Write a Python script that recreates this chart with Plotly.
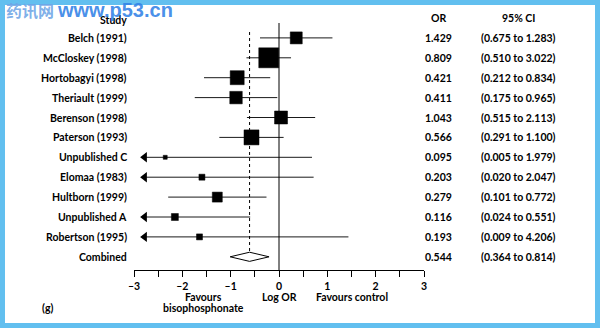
import math
import plotly.graph_objects as go

# ---- data -------------------------------------------------------------
studies = ["Belch (1991)", "McCloskey (1998)", "Hortobagyi (1998)", "Theriault (1999)",
           "Berenson (1998)", "Paterson (1993)", "Unpublished C", "Elomaa (1983)",
           "Hultborn (1999)", "Unpublished A", "Robertson (1995)"]
odds_ratio = [1.429, 0.809, 0.421, 0.411, 1.043, 0.566, 0.095, 0.203, 0.279, 0.116, 0.193]
ci_low = [0.675, 0.510, 0.212, 0.175, 0.515, 0.291, 0.005, 0.020, 0.101, 0.024, 0.009]
ci_high = [3.022, 1.283, 0.834, 0.965, 2.113, 1.100, 1.979, 2.047, 0.772, 0.551, 4.206]
ci_text = ["(0.675 to 1.283)", "(0.510 to 3.022)", "(0.212 to 0.834)", "(0.175 to 0.965)",
           "(0.515 to 2.113)", "(0.291 to 1.100)", "(0.005 to 1.979)", "(0.020 to 2.047)",
           "(0.101 to 0.772)", "(0.024 to 0.551)", "(0.009 to 4.206)"]
weights = [12, 20, 14, 12.5, 13, 15, 4, 6, 10, 7, 6]   # square sizes (study weight)

combined_label = "Combined"
combined_or = 0.544
combined_low = 0.364
combined_high = 0.814

tick_vals = [-3, -2.5, -2, -1.5, -1, -0.5, 0, 0.5, 1, 1.5, 2, 2.5, 3]
tick_text = ["\u20133", "", "\u20132", "", "\u20131", "", "0", "", "1", "", "2", "", "3"]

# ---- layout constants -------------------------------------------------
W, H = 600, 328
ML, MR, MT, MB = 134, 176, 0, 58
PW, PH = W - ML - MR, H - MT - MB
XMIN, XMAX = -3, 3
ROW0, ROWSTEP = 18.0, 19.9          # pixel centre of header row, row spacing
FONT = "Lato"
FS = 10.5
ARROW_X = -2.78


def px_to_row(py):
    return (py - ROW0) / ROWSTEP


def paper_x(px):
    return (px - ML) / PW


def paper_y(py):
    return (MT + PH - py) / PH


n = len(studies)
rows = list(range(1, n + 1))
comb_row = n + 1

log_or = [math.log(v) for v in odds_ratio]
log_lo = [math.log(v) for v in ci_low]
log_hi = [math.log(v) for v in ci_high]

fig = go.Figure()

# confidence-interval whiskers (clipped at the left edge with an arrow)
wx, wy = [], []
arrow_x, arrow_y = [], []
for r, lo, hi in zip(rows, log_lo, log_hi):
    start = lo
    if lo < XMIN:
        start = ARROW_X
        arrow_x.append(ARROW_X)
        arrow_y.append(r)
    wx += [start, hi, None]
    wy += [r, r, None]
fig.add_trace(go.Scatter(x=wx, y=wy, mode="lines", line=dict(color="#1a1a1a", width=1),
                         hoverinfo="skip", showlegend=False))
fig.add_trace(go.Scatter(x=arrow_x, y=arrow_y, mode="markers",
                         marker=dict(symbol="triangle-left", size=9, color="#000", opacity=1),
                         hoverinfo="skip", showlegend=False))

# study estimates
fig.add_trace(go.Scatter(x=log_or, y=rows, mode="markers",
                         marker=dict(symbol="square", size=weights, color="#000", opacity=1,
                                     line=dict(width=0.5, color="#000")),
                         opacity=1, hoverinfo="skip", showlegend=False))

# pooled estimate diamond
c_mid = math.log(combined_or)
c_lo = math.log(combined_low)
c_hi = math.log(combined_high)
half_h = 0.23
fig.add_trace(go.Scatter(x=[c_lo, c_mid, c_hi, c_mid, c_lo],
                         y=[comb_row, comb_row - half_h, comb_row, comb_row + half_h, comb_row],
                         mode="lines", fill="toself", fillcolor="white",
                         line=dict(color="#000", width=1),
                         hoverinfo="skip", showlegend=False))

y_top = px_to_row(MT)
y_bot = px_to_row(MT + PH)

shapes = [
    # line of no effect
    dict(type="line", xref="x", yref="y", x0=0, x1=0, y0=px_to_row(23), y1=y_bot,
         line=dict(color="#000", width=1)),
    # pooled estimate reference
    dict(type="line", xref="x", yref="y", x0=c_mid, x1=c_mid, y0=px_to_row(32),
         y1=comb_row - half_h, line=dict(color="#000", width=1, dash="dot")),
    # light blue frame
    dict(type="rect", xref="paper", yref="paper", x0=paper_x(0), x1=paper_x(W),
         y0=paper_y(H), y1=paper_y(0), line=dict(color="#62bfef", width=10),
         fillcolor="rgba(0,0,0,0)", layer="above"),
]

bold = dict(family=FONT, size=FS, color="#000")
ann = []


def label(text, x, y, xanchor="center", xref="paper", size=None):
    f = dict(bold)
    if size:
        f["size"] = size
    ann.append(dict(text="<b>%s</b>" % text, x=x, y=y, xref=xref, yref="paper",
                    xanchor=xanchor, yanchor="middle", showarrow=False, font=f))


# headers
label("Study", paper_x(129), paper_y(ROW0 + 2), xanchor="right")
label("OR", paper_x(438), paper_y(ROW0))
label("95% CI", paper_x(518), paper_y(ROW0))

# rows
for r, name, orv, ci in zip(rows, studies, odds_ratio, ci_text):
    py = ROW0 + ROWSTEP * r
    label(name, paper_x(129), paper_y(py), xanchor="right")
    label("%.3f" % orv, paper_x(438), paper_y(py))
    label(ci, paper_x(518), paper_y(py))

py = ROW0 + ROWSTEP * comb_row
label(combined_label, paper_x(129), paper_y(py), xanchor="right")
label("%.3f" % combined_or, paper_x(438), paper_y(py))
label("(%.3f to %.3f)" % (combined_low, combined_high), paper_x(518), paper_y(py))

# axis captions
label("Favours", -1.57, paper_y(297), xref="x")
label("bisophosphonate", -1.57, paper_y(308), xref="x")
label("Log OR", 0, paper_y(297), xref="x")
label("Favours control", 1.5, paper_y(297), xref="x")
label("(g)", paper_x(47), paper_y(308))

# site mark
ann.append(dict(text="<b>药讯网</b>", x=paper_x(4), y=paper_y(10.5), xref="paper", yref="paper",
                xanchor="left", yanchor="middle", showarrow=False,
                font=dict(family="Noto Sans CJK SC", size=16, color="rgba(110,165,230,0.9)")))
ann.append(dict(text="<b>www.p53.cn</b>", x=paper_x(55), y=paper_y(10), xref="paper", yref="paper",
                xanchor="left", yanchor="middle", showarrow=False,
                font=dict(family="Liberation Sans", size=20, color="rgba(50,130,230,0.9)")))

fig.update_layout(
    width=W, height=H,
    margin=dict(l=ML, r=MR, t=MT, b=MB, pad=0),
    paper_bgcolor="white", plot_bgcolor="rgba(0,0,0,0)",
    shapes=shapes, annotations=ann, showlegend=False,
    xaxis=dict(range=[XMIN, XMAX], tickvals=tick_vals, ticktext=tick_text,
               ticks="outside", ticklen=6, tickwidth=1, tickcolor="#000",
               showline=True, linecolor="#000", linewidth=1, mirror=False,
               showgrid=False, zeroline=False,
               tickfont=dict(family=FONT, size=FS, color="#000", weight="bold"),
               fixedrange=True),
    yaxis=dict(range=[y_bot, y_top], visible=False, showgrid=False, zeroline=False,
               fixedrange=True),
)

fig.write_html("out.html", config={"displayModeBar": False})
